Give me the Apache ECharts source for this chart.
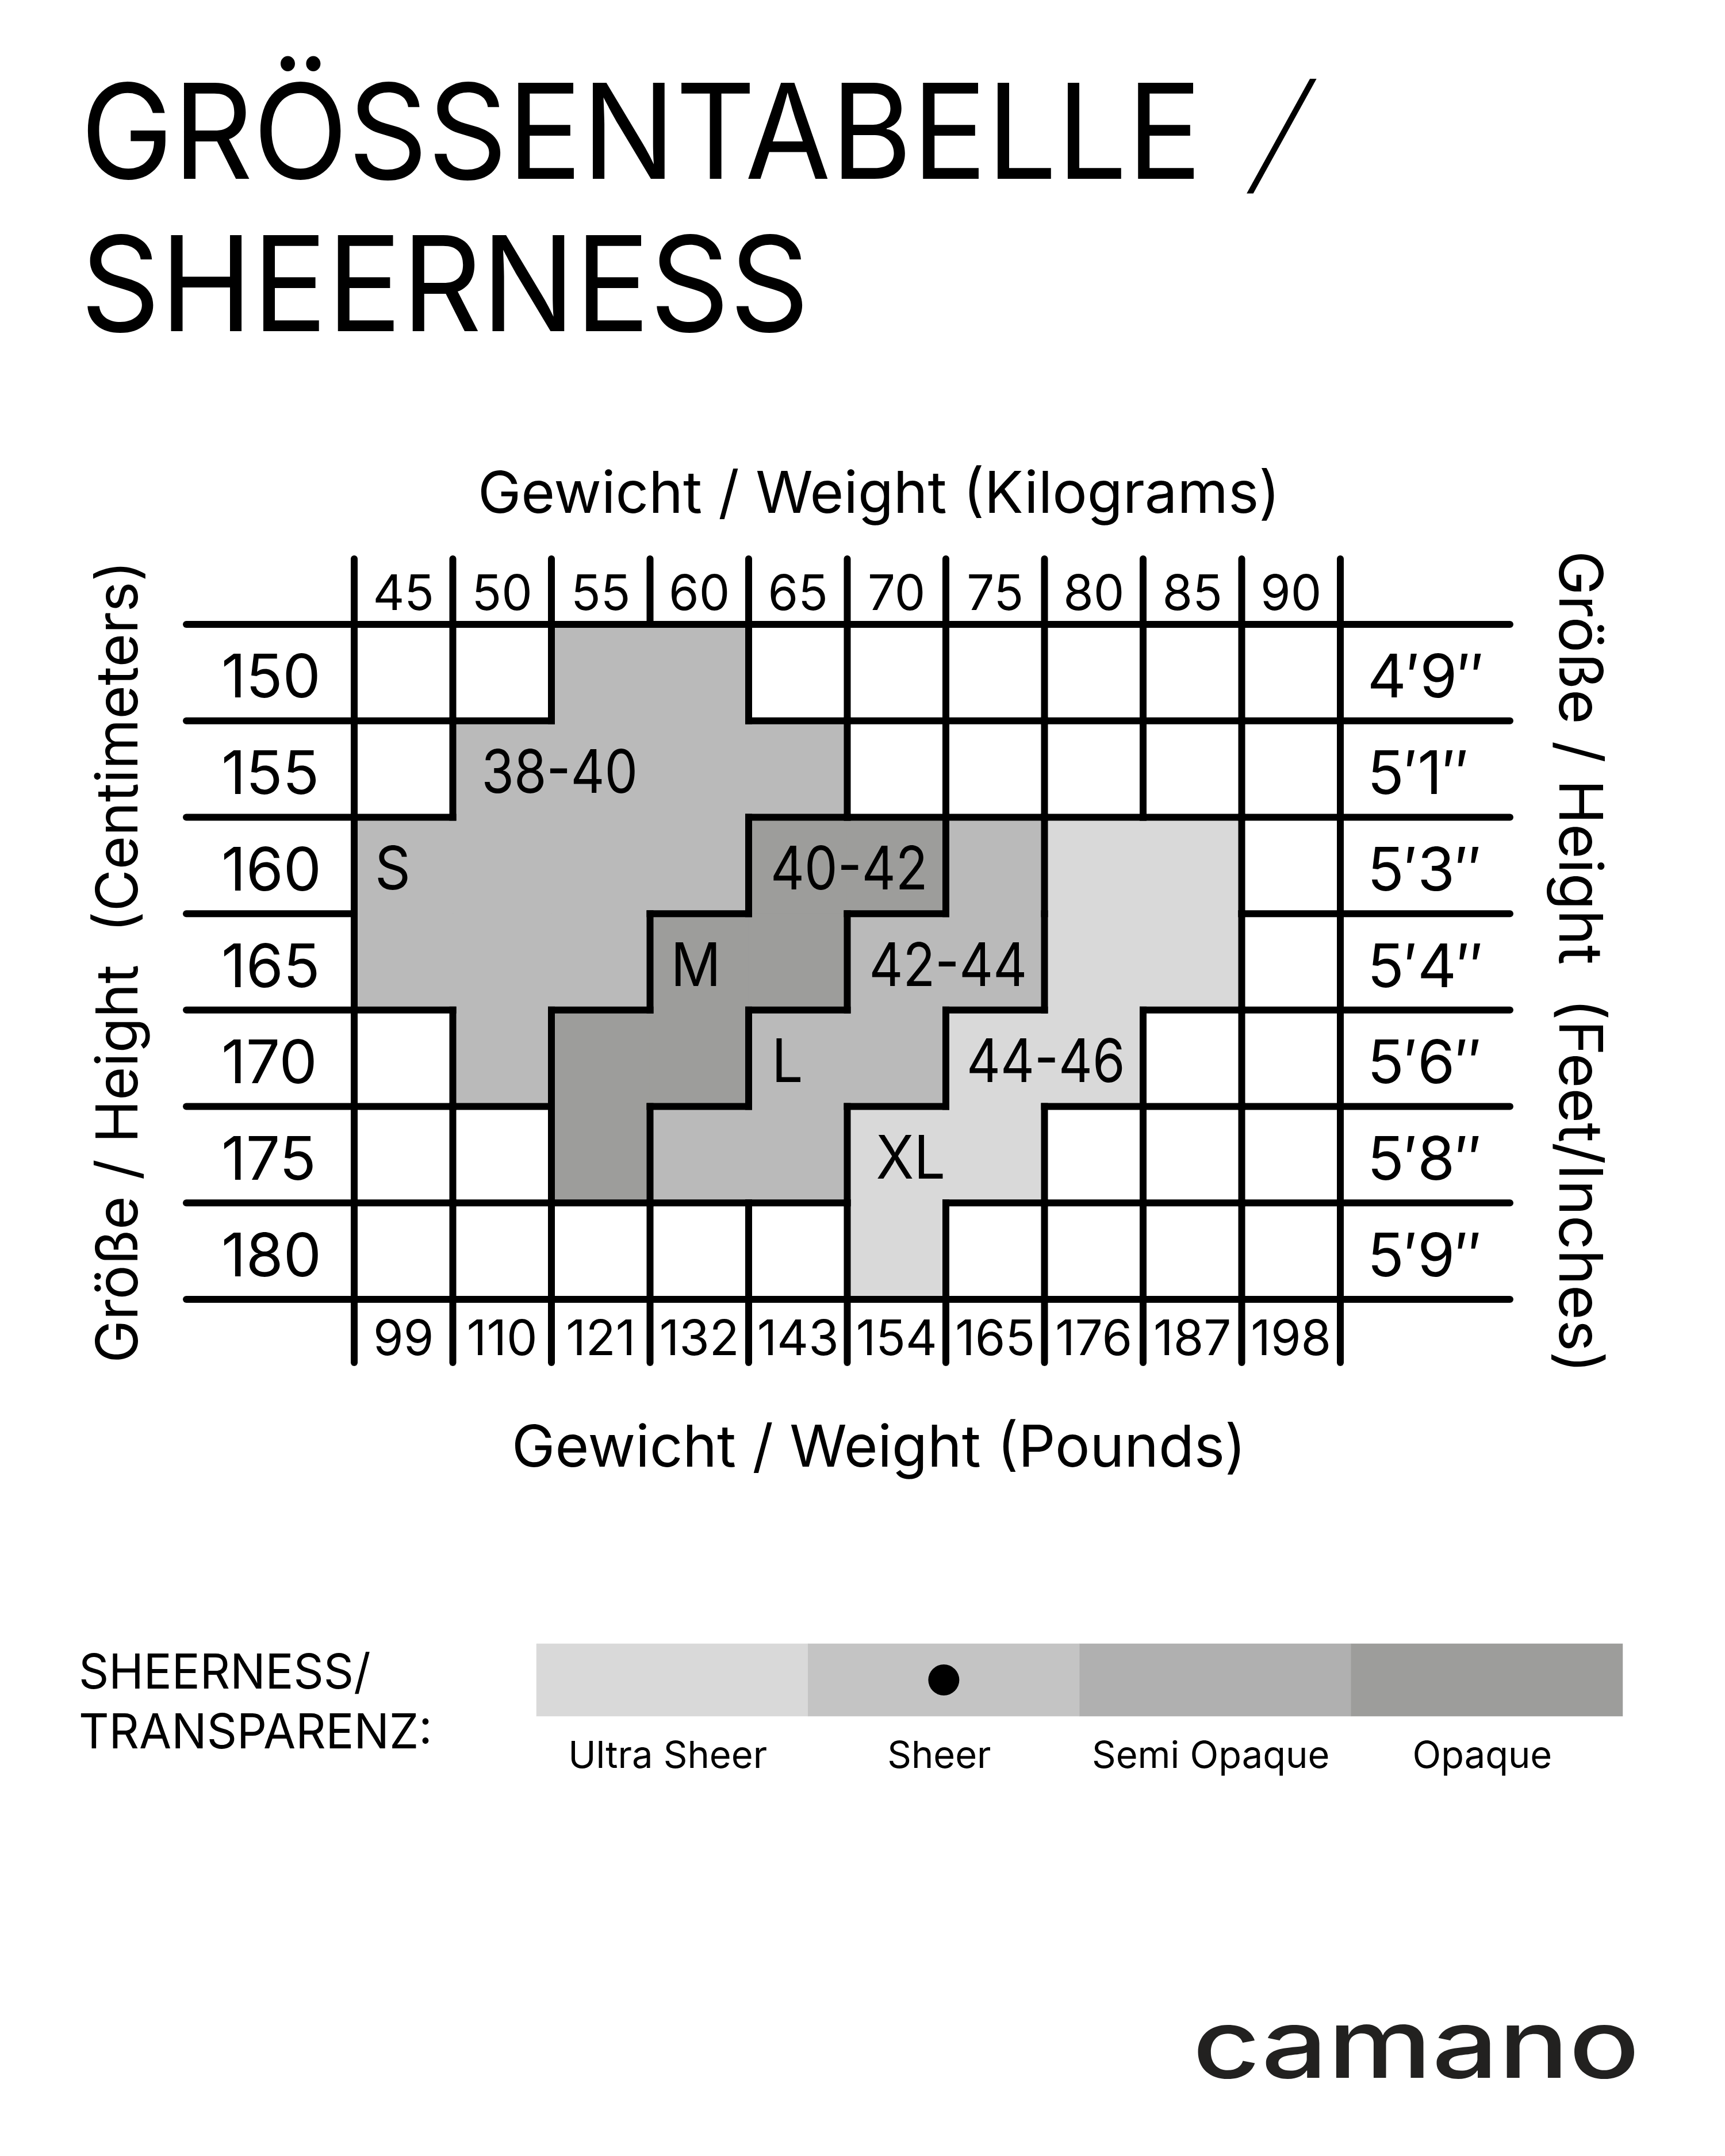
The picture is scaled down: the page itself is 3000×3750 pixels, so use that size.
<!DOCTYPE html>
<html>
<head>
<meta charset="utf-8">
<title>Größentabelle</title>
<script src="https://cdn.jsdelivr.net/npm/echarts@6/dist/echarts.min.js"></script>
<style>
html, body { margin: 0; padding: 0; background: #fff; }
#main { width: 3000px; height: 3750px; }
</style>
</head>
<body>
<div id="main"></div>
<script>
var kilograms = ['45', '50', '55', '60', '65', '70', '75', '80', '85', '90'];
var pounds = ['99', '110', '121', '132', '143', '154', '165', '176', '187', '198'];
var centimeters = ['150', '155', '160', '165', '170', '175', '180'];
var feetInches = ['4′9″', '5′1″', '5′3″', '5′4″', '5′6″', '5′8″', '5′9″'];

// 0 = leer, 1 = ultra sheer, 2 = sheer, 3 = opaque
var row150 = [0, 0, 2, 2, 0, 0, 0, 0, 0, 0];
var row155 = [0, 2, 2, 2, 2, 0, 0, 0, 0, 0];
var row160 = [2, 2, 2, 2, 3, 3, 2, 1, 1, 0];
var row165 = [2, 2, 2, 3, 3, 2, 2, 1, 1, 0];
var row170 = [0, 2, 3, 3, 2, 2, 1, 1, 0, 0];
var row175 = [0, 0, 3, 2, 2, 1, 1, 0, 0, 0];
var row180 = [0, 0, 0, 0, 0, 1, 0, 0, 0, 0];
var sizeRows = [row150, row155, row160, row165, row170, row175, row180];
var levelColors = ['#ffffff', '#d9d9d9', '#bababa', '#9d9d9b'];

var regionLabels = ['38-40', 'S', '40-42', 'M', '42-44', 'L', '44-46', 'XL'];
var regionCols = [1, 0, 4, 3, 5, 4, 6, 5];
var regionRows = [1, 2, 2, 3, 3, 4, 4, 5];

var sheerLabels = ['Ultra Sheer', 'Sheer', 'Semi Opaque', 'Opaque'];
var sheerColors = ['#d9d9d9', '#c4c4c4', '#b0b0b0', '#9d9d9b'];
var sheerMarked = 1;

var FONT = 'Inter';

function levelAt(col, row) {
    if (row < 0 || row >= sizeRows.length || col < 0 || col >= kilograms.length) return -1;
    return sizeRows[row][col];
}

// Kante zeichnen, ausser innerhalb einer gefuellten Flaeche
function hasEdge(a, b) {
    return !(a === b && a > 0);
}

var cells = [];
var edges = [];
sizeRows.forEach(function (levels, row) {
    levels.forEach(function (level, col) {
        if (level > 0) {
            cells.push({value: [col, row, level], itemStyle: {color: levelColors[level], borderColor: levelColors[level], borderWidth: 1}});
        }
    });
});
for (var r = 0; r <= sizeRows.length; r++) {
    for (var c = 0; c < kilograms.length; c++) {
        if (hasEdge(levelAt(c, r - 1), levelAt(c, r))) edges.push([c, r, 0]);
    }
}
for (var c2 = 0; c2 <= kilograms.length; c2++) {
    for (var r2 = 0; r2 < sizeRows.length; r2++) {
        if (hasEdge(levelAt(c2 - 1, r2), levelAt(c2, r2))) edges.push([c2, r2, 1]);
    }
}
var stubs = [];
for (var s = 0; s <= sizeRows.length; s++) {
    stubs.push([0, s, 0]);
}
for (var t = 0; t <= kilograms.length; t++) {
    stubs.push([t, 0, 1]);
}

var lineWidth = 12;

function renderEdge(params, api) {
    var w = api.size([1, 1])[0];
    var h = api.size([1, 1])[1];
    var p = api.coord([api.value(0), api.value(1)]);
    var x = p[0] - w / 2;
    var y = p[1] - h / 2;
    var shape = api.value(2) === 0
        ? {x1: x, y1: y, x2: x + w, y2: y}
        : {x1: x, y1: y, x2: x, y2: y + h};
    return {type: 'line', shape: shape, style: {stroke: '#000', lineWidth: lineWidth, lineCap: 'square'}};
}

function renderStub(params, api) {
    var w = api.size([1, 1])[0];
    var h = api.size([1, 1])[1];
    var p = api.coord([api.value(0), api.value(1)]);
    var x = p[0] - w / 2;
    var y = p[1] - h / 2;
    var style = {stroke: '#000', lineWidth: lineWidth, lineCap: 'round'};
    if (api.value(2) === 0) {
        var right = x + w * kilograms.length;
        return {type: 'group', children: [
            {type: 'line', shape: {x1: x - 292, y1: y, x2: x, y2: y}, style: style},
            {type: 'line', shape: {x1: right, y1: y, x2: right + 295, y2: y}, style: style}
        ]};
    }
    var bottom = y + h * sizeRows.length;
    return {type: 'group', children: [
        {type: 'line', shape: {x1: x, y1: y - 114, x2: x, y2: y}, style: style},
        {type: 'line', shape: {x1: x, y1: bottom, x2: x, y2: bottom + 110}, style: style}
    ]};
}

// Abstand vom linken Zellrand, je Beschriftung
var labelPad = {'38-40': 50, 'S': 36, '40-42': 38, 'M': 36, '42-44': 38, 'L': 40, '44-46': 36, 'XL': 50};

function renderRegionLabel(params, api) {
    var w = api.size([1, 1])[0];
    var name = regionLabels[params.dataIndex];
    var p = api.coord([regionCols[params.dataIndex], regionRows[params.dataIndex]]);
    return {
        type: 'text',
        x: p[0] - w / 2 + labelPad[name],
        y: p[1] + 10,
        scaleX: name.length > 2 ? 0.87 : 0.92,
        style: {
            text: name,
            font: '105px ' + FONT,
            fill: '#000',
            textAlign: 'left',
            textVerticalAlign: 'middle'
        }
    };
}

// lineHeight 24 + top: Text sitzt 12px unter der Zeilenmitte
var bigLabel = {fontFamily: FONT, fontSize: 105, color: '#000', verticalAlign: 'top', lineHeight: 24, interval: 0};
var smallLabel = {fontFamily: FONT, fontSize: 85, color: '#000', interval: 0};

var myChart = echarts.init(document.getElementById('main'), null, {renderer: 'canvas'});

myChart.setOption({
    backgroundColor: '#fff',
    animation: false,
    grid: [
        {left: 616, top: 1086, width: 1715, height: 1174},
        {left: 933, top: 2859, width: 1889, height: 126}
    ],
    xAxis: [
        {
            type: 'category', data: kilograms, gridIndex: 0, position: 'top',
            name: 'Gewicht / Weight (Kilograms)', nameLocation: 'middle', nameGap: 174,
            nameTextStyle: {fontFamily: FONT, fontSize: 101, color: '#000', padding: [0, 0, 0, 110]},
            axisLine: {show: false}, axisTick: {show: false}, splitLine: {show: false},
            axisLabel: Object.assign({margin: 8}, smallLabel)
        },
        {
            type: 'category', data: pounds, gridIndex: 0, position: 'bottom',
            name: 'Gewicht / Weight (Pounds)', nameLocation: 'middle', nameGap: 210,
            nameTextStyle: {fontFamily: FONT, fontSize: 101, color: '#000', padding: [0, 0, 0, 110]},
            axisLine: {show: false}, axisTick: {show: false}, splitLine: {show: false},
            axisLabel: Object.assign({margin: 29}, smallLabel)
        },
        {
            type: 'category', data: sheerLabels, gridIndex: 1, position: 'bottom',
            axisLine: {show: false}, axisTick: {show: false}, splitLine: {show: false},
            axisLabel: {fontFamily: FONT, fontSize: 65, color: '#000', margin: 38, interval: 0, padding: [0, 16, 0, 0]}
        }
    ],
    yAxis: [
        {
            type: 'category', data: centimeters, gridIndex: 0, position: 'left', inverse: true,
            name: 'Größe / Height  (Centimeters)', nameLocation: 'middle', nameGap: 357, nameRotate: 90,
            nameTextStyle: {fontFamily: FONT, fontSize: 100, color: '#000'},
            axisLine: {show: false}, axisTick: {show: false}, splitLine: {show: false},
            axisLabel: Object.assign({margin: 231, align: 'left'}, bigLabel)
        },
        {
            type: 'category', data: feetInches, gridIndex: 0, position: 'right', inverse: true,
            name: 'Größe / Height  (Feet/Inches)', nameLocation: 'middle', nameGap: 360, nameRotate: -90,
            nameTextStyle: {fontFamily: FONT, fontSize: 104, color: '#000'},
            axisLine: {show: false}, axisTick: {show: false}, splitLine: {show: false},
            axisLabel: Object.assign({margin: 47}, bigLabel)
        },
        {
            type: 'category', data: [''], gridIndex: 1,
            axisLine: {show: false}, axisTick: {show: false}, splitLine: {show: false}, axisLabel: {show: false}
        }
    ],
    series: [
        {type: 'heatmap', xAxisIndex: 0, yAxisIndex: 0, data: cells, silent: true},
        {type: 'custom', xAxisIndex: 0, yAxisIndex: 0, data: stubs, renderItem: renderStub, silent: true, z: 3},
        {type: 'custom', xAxisIndex: 0, yAxisIndex: 0, data: edges, renderItem: renderEdge, silent: true, z: 4},
        {
            type: 'custom', xAxisIndex: 0, yAxisIndex: 0, silent: true, z: 5,
            data: regionLabels.map(function (name, i) { return [regionCols[i], regionRows[i]]; }),
            renderItem: renderRegionLabel
        },
        {
            type: 'heatmap', xAxisIndex: 2, yAxisIndex: 2, silent: true,
            data: sheerColors.map(function (color, i) { return {value: [i, 0, i], itemStyle: {color: color}}; })
        },
        {
            type: 'scatter', xAxisIndex: 2, yAxisIndex: 2, silent: true, z: 5,
            symbol: 'circle', symbolSize: 54, itemStyle: {color: '#000', opacity: 1},
            data: [[sheerMarked, 0]]
        }
    ],
    graphic: [
        {
            type: 'text', x: 140, y: 110, scaleX: 0.943, silent: true,
            style: {text: 'GRÖSSENTABELLE\nSHEERNESS', font: '229px ' + FONT, fill: '#000', lineHeight: 265}
        },
        {
            type: 'text', x: 2153, y: 110, scaleX: 2.05, silent: true,
            style: {text: '/', font: '100 229px ' + FONT, fill: '#000', lineHeight: 265}
        },
        {
            type: 'text', x: 137, y: 2860, scaleX: 0.97, silent: true,
            style: {text: 'SHEERNESS/\nTRANSPARENZ:', font: '84px ' + FONT, fill: '#000', lineHeight: 104}
        },
        {
            type: 'text', x: 2074, y: 3480, scaleX: 1.22, silent: true,
            style: {text: 'camano', font: '500 167px ' + FONT, fill: '#222120'}
        }
    ]
});
</script>
</body>
</html>
